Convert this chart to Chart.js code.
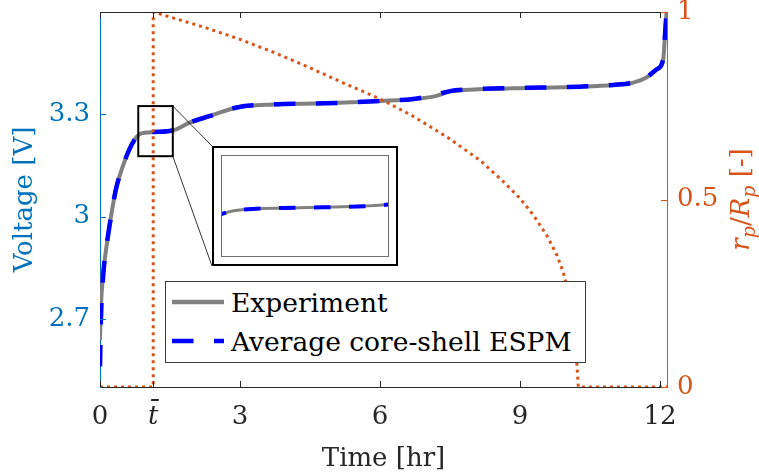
<!DOCTYPE html>
<html>
<head>
<meta charset="utf-8">
<script src="https://cdn.jsdelivr.net/npm/chart.js@4.4.1/dist/chart.umd.min.js"></script>
<style>
  html, body { margin: 0; padding: 0; background: #fff; }
  #wrap { position: relative; width: 759px; height: 475px; }
  #main { position: absolute; left: 0; top: 0; }
  #legend {
    position: absolute; left: 165px; top: 281px; width: 421px; height: 82px;
    box-sizing: border-box; border: 1px solid #3c3c3c; background: #fff;
    font-family: 'DejaVu Serif', serif; font-size: 26.5px; color: #000;
  }
  #legend .row { position: absolute; left: 6px; height: 36px; display: flex; align-items: center; white-space: nowrap; }
  #legend svg { margin-right: 7px; }
  #insetBox {
    position: absolute; left: 212px; top: 146px; width: 186px; height: 120px;
    box-sizing: border-box; border: 2px solid #000; background: #fff;
  }
  #insetInner {
    position: absolute; left: 221px; top: 155px; width: 168px; height: 102px;
    box-sizing: border-box; border: 1px solid #6e6e6e; background: #fff;
  }
</style>
</head>
<body>
<div id="wrap">
  <canvas id="main" width="759" height="475"></canvas>
  <div id="insetBox"></div>
  <div id="insetInner"><canvas id="inset" width="166" height="100"></canvas></div>
  <div id="legend"></div>
</div>
<script>
// data
const T_BAR = 1.14;
const timeHr = [0, 0.02, 0.07, 0.13, 0.236, 0.34, 0.49, 0.63, 0.77, 0.88, 1.16, 1.6, 1.93, 2.36, 2.93,
  3.71, 4.79, 6.0, 6.71, 7.21, 7.5, 7.79, 8.86, 10.29, 11.0, 11.43, 11.71, 11.93, 12.07, 12.11, 12.14];
const experimentV = [2.638, 2.736, 2.834, 2.903, 3.0, 3.079, 3.148, 3.197, 3.231, 3.244, 3.248, 3.254, 3.276, 3.295, 3.32,
  3.329, 3.332, 3.339, 3.344, 3.354, 3.367, 3.371, 3.376, 3.381, 3.386, 3.393, 3.408, 3.432, 3.462, 3.54, 3.6];
const modelV = [2.56, 2.70, 2.83, 2.903, 3.0, 3.079, 3.148, 3.197, 3.231, 3.244, 3.248, 3.254, 3.276, 3.295, 3.32,
  3.329, 3.332, 3.339, 3.345, 3.358, 3.368, 3.372, 3.377, 3.381, 3.386, 3.393, 3.408, 3.432, 3.462, 3.54, 3.6];

const radiusTime = [0, 1.14, 1.14, 1.71, 2.29, 3.0, 3.71, 4.43, 5.14, 5.86, 6.18, 6.71, 7.43, 8.14, 8.64,
  9.0, 9.29, 9.57, 9.79, 9.93, 10.08, 10.18, 10.25, 12.15];
const radiusRatio = [0, 0, 1, 0.979, 0.957, 0.927, 0.893, 0.855, 0.815, 0.776, 0.757, 0.722, 0.667, 0.605, 0.548,
  0.503, 0.458, 0.405, 0.352, 0.305, 0.23, 0.14, 0, 0];

const seriesNames = ['Experiment', 'Average core-shell ESPM'];
const xTicks = [0, T_BAR, 3, 6, 9, 12];
const voltTicks = [2.7, 3, 3.3];
const ratioTicks = [0, 0.5, 1];
const zoomTime = [0.82, 1.56];
const zoomVolt = [3.177, 3.324];

const colors = {
    gray: '#808080',
    blue: '#0000FF',
    orange: '#D95319',
    axisBlue: '#0072BD',
    text: '#262626'
};
const FONT = "'DejaVu Serif', serif";
const FS = 26;
const insetBox = { left: 212, top: 146, right: 398, bottom: 266 };

const pts = (xs, ys) => xs.map((x, i) => ({ x: x, y: ys[i] }));

// HTML legend
const legendEl = document.getElementById('legend');
const samples = [
    '<line x1="0" y1="5" x2="52" y2="5" stroke="' + colors.gray + '" stroke-width="4.5"/>',
    '<line x1="0" y1="5" x2="52" y2="5" stroke="' + colors.blue + '" stroke-width="4.5" stroke-dasharray="21.5 20.5"/>'
];
seriesNames.forEach(function(name, i) {
    const row = document.createElement('div');
    row.className = 'row';
    row.style.top = (2 + i * 39) + 'px';
    row.innerHTML = '<svg width="52" height="10">' + samples[i] + '</svg><span>' + name + '</span>';
    legendEl.appendChild(row);
});

function noPadY(s) { s.paddingTop = 0; s.paddingBottom = 0; }

const decorations = {
    id: 'decorations',
    afterDatasetsDraw(chart) {
        const { ctx, chartArea: a, scales } = chart;
        ctx.save();
        ctx.lineWidth = 1;
        ctx.strokeStyle = colors.text;
        ctx.beginPath();
        ctx.moveTo(a.left, a.top + 0.5);
        ctx.lineTo(a.right, a.top + 0.5);
        ctx.stroke();
        scales.x.ticks.forEach(function(t) {
            const px = Math.round(scales.x.getPixelForValue(t.value)) + 0.5;
            ctx.beginPath();
            ctx.moveTo(px, a.bottom); ctx.lineTo(px, a.bottom - 6);
            ctx.moveTo(px, a.top); ctx.lineTo(px, a.top + 6);
            ctx.stroke();
        });
        ctx.strokeStyle = colors.axisBlue;
        scales.y.ticks.forEach(function(t) {
            const py = Math.round(scales.y.getPixelForValue(t.value)) + 0.5;
            ctx.beginPath(); ctx.moveTo(a.left, py); ctx.lineTo(a.left + 6, py); ctx.stroke();
        });
        ctx.strokeStyle = colors.orange;
        scales.y1.ticks.forEach(function(t) {
            const py = Math.round(scales.y1.getPixelForValue(t.value)) + 0.5;
            ctx.beginPath(); ctx.moveTo(a.right, py); ctx.lineTo(a.right - 6, py); ctx.stroke();
        });

        // zoom window and connectors to the inset
        const x0 = scales.x.getPixelForValue(zoomTime[0]);
        const x1 = scales.x.getPixelForValue(zoomTime[1]);
        const yTop = scales.y.getPixelForValue(zoomVolt[1]);
        const yBot = scales.y.getPixelForValue(zoomVolt[0]);
        ctx.strokeStyle = '#000';
        ctx.lineWidth = 0.8;
        ctx.beginPath();
        ctx.moveTo(x1, yTop); ctx.lineTo(insetBox.left, insetBox.top);
        ctx.moveTo(x1, yBot); ctx.lineTo(insetBox.left, insetBox.bottom);
        ctx.stroke();
        ctx.lineWidth = 2;
        ctx.strokeRect(x0, yTop, x1 - x0, yBot - yTop);

        // right axis title r_p/R_p [-]
        const parts = [
            { t: 'r', f: 'italic ' + FS + 'px ' + FONT, dy: 0 },
            { t: 'p', f: 'italic 19px ' + FONT, dy: 6 },
            { t: '/', f: FS + 'px ' + FONT, dy: 0 },
            { t: 'R', f: 'italic ' + FS + 'px ' + FONT, dy: 0 },
            { t: 'p', f: 'italic 19px ' + FONT, dy: 6 },
            { t: ' [-]', f: FS + 'px ' + FONT, dy: 0 }
        ];
        let total = 0;
        parts.forEach(function(p) { ctx.font = p.f; p.w = ctx.measureText(p.t).width; total += p.w; });
        ctx.translate(scales.y1.left + 82, (a.top + a.bottom) / 2);
        ctx.rotate(-Math.PI / 2);
        ctx.fillStyle = colors.orange;
        ctx.textBaseline = 'alphabetic';
        let cx = -total / 2;
        parts.forEach(function(p) {
            ctx.font = p.f;
            ctx.fillText(p.t, cx, p.dy);
            cx += p.w;
        });
        ctx.restore();
    }
};

new Chart(document.getElementById('main'), {
    type: 'line',
    data: {
        datasets: [
            {
                label: 'r_p/R_p',
                data: pts(radiusTime, radiusRatio),
                yAxisID: 'y1',
                borderColor: colors.orange,
                borderWidth: 3,
                borderDash: [3, 4],
                pointRadius: 0,
                tension: 0,
                order: 0
            },
            {
                label: seriesNames[1],
                data: pts(timeHr, modelV),
                yAxisID: 'y',
                borderColor: colors.blue,
                borderWidth: 4.5,
                borderDash: [21.5, 20.5],
                pointRadius: 0,
                cubicInterpolationMode: 'monotone',
                order: 1
            },
            {
                label: seriesNames[0],
                data: pts(timeHr, experimentV),
                yAxisID: 'y',
                borderColor: colors.gray,
                borderWidth: 4,
                pointRadius: 0,
                cubicInterpolationMode: 'monotone',
                order: 2
            }
        ]
    },
    options: {
        responsive: false,
        animation: false,
        events: [],
        layout: { padding: { top: 12, left: 0, right: 0, bottom: 0 } },
        plugins: { legend: { display: false }, tooltip: { enabled: false } },
        scales: {
            x: {
                type: 'linear',
                position: 'bottom',
                min: 0,
                max: 12.15,
                afterFit: function(s) { s.height = 88; s.paddingLeft = 0; s.paddingRight = 0; },
                afterBuildTicks: function(s) { s.ticks = xTicks.map(v => ({ value: v })); },
                grid: { display: false, drawTicks: false },
                border: { display: true, color: colors.text, width: 1 },
                ticks: {
                    autoSkip: false,
                    maxRotation: 0,
                    padding: 15,
                    color: colors.text,
                    font: function(c) {
                        return { family: FONT, size: FS, style: (c.tick && c.tick.value === T_BAR) ? 'italic' : 'normal' };
                    },
                    callback: function(v) { return v === T_BAR ? 't\u0304' : String(v); }
                },
                title: {
                    display: true,
                    text: 'Time [hr]',
                    color: colors.text,
                    font: { family: FONT, size: FS },
                    padding: { top: 0, bottom: 0 }
                }
            },
            y: {
                position: 'left',
                min: 2.5,
                max: 3.6,
                afterFit: function(s) { s.width = 100; noPadY(s); },
                afterBuildTicks: function(s) { s.ticks = voltTicks.map(v => ({ value: v })); },
                grid: { display: false, drawTicks: false },
                border: { display: true, color: colors.axisBlue, width: 1 },
                ticks: {
                    padding: 10,
                    color: colors.axisBlue,
                    font: { family: FONT, size: FS },
                    callback: function(v) { return String(v); }
                },
                title: {
                    display: true,
                    text: 'Voltage [V]',
                    color: colors.axisBlue,
                    font: { family: FONT, size: FS },
                    padding: { top: 10, bottom: 0 }
                }
            },
            y1: {
                position: 'right',
                min: 0,
                max: 1,
                afterFit: function(s) { s.width = 92; noPadY(s); },
                afterBuildTicks: function(s) { s.ticks = ratioTicks.map(v => ({ value: v })); },
                grid: { display: false, drawTicks: false },
                border: { display: true, color: colors.orange, width: 1 },
                ticks: {
                    padding: 10,
                    color: colors.orange,
                    font: { family: FONT, size: FS },
                    callback: function(v) { return String(v); }
                }
            }
        }
    },
    plugins: [decorations]
});

// zoomed inset
new Chart(document.getElementById('inset'), {
    type: 'line',
    data: {
        datasets: [
            {
                label: seriesNames[1],
                data: pts(timeHr, modelV),
                borderColor: colors.blue,
                borderWidth: 4,
                borderDash: [16.5, 18.5],
                pointRadius: 0,
                cubicInterpolationMode: 'monotone',
                order: 0
            },
            {
                label: seriesNames[0],
                data: pts(timeHr, experimentV),
                borderColor: colors.gray,
                borderWidth: 3,
                pointRadius: 0,
                cubicInterpolationMode: 'monotone',
                order: 1
            }
        ]
    },
    options: {
        responsive: false,
        animation: false,
        events: [],
        layout: { padding: 0 },
        plugins: { legend: { display: false }, tooltip: { enabled: false } },
        scales: {
            x: { type: 'linear', display: false, min: zoomTime[0], max: zoomTime[1] },
            y: { display: false, min: zoomVolt[0], max: zoomVolt[1] }
        }
    }
});
</script>
</body>
</html>
